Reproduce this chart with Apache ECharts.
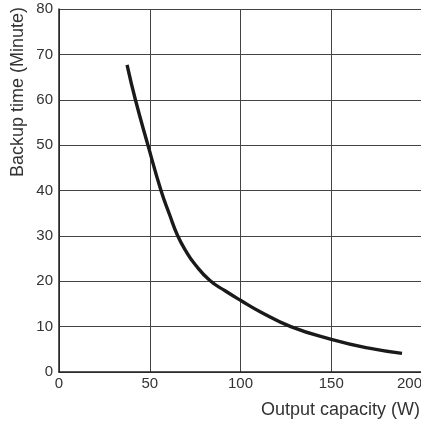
<!DOCTYPE html>
<html>
<head>
<meta charset="utf-8">
<script src="https://cdn.jsdelivr.net/npm/echarts@6/dist/echarts.min.js"></script>
<style>
  html, body { margin: 0; padding: 0; background: #fff; }
  #chart { width: 421px; height: 424px; }
</style>
</head>
<body>
<div id="chart"></div>
<script>
// 曲线数据 (W, 分钟)
const capacity = [37.5, 42.1, 49, 56.2, 61, 65.2, 70, 75, 83, 91.5, 100, 110.8, 127.7, 150, 170, 189];
const backupTime = [67.7, 60, 50, 40, 34.6, 30.2, 26.6, 23.7, 20.2, 17.9, 15.8, 13.3, 10, 7.2, 5.3, 4.1];
const xTicks = [0, 50, 100, 150, 200];
const yTicks = [0, 10, 20, 30, 40, 50, 60, 70, 80];

const font = 'Liberation Sans, Arial, sans-serif';

const option = {
  animation: false,
  grid: { left: 59, top: 9, right: -1, bottom: 52, outerBoundsMode: 'none', containLabel: false },
  xAxis: {
    type: 'value',
    min: xTicks[0],
    max: xTicks[xTicks.length - 1],
    interval: 50,
    axisLine: { show: true, lineStyle: { color: '#222', width: 1.5 } },
    axisTick: { show: false },
    axisLabel: { color: '#333', fontSize: 15, fontFamily: font, margin: 4, alignMaxLabel: 'right' },
    splitLine: { show: true, lineStyle: { color: '#444', width: 1 } }
  },
  yAxis: {
    type: 'value',
    min: yTicks[0],
    max: yTicks[yTicks.length - 1],
    interval: 10,
    axisLine: { show: true, lineStyle: { color: '#222', width: 1.5 } },
    axisTick: { show: false },
    axisLabel: { color: '#333', fontSize: 15, fontFamily: font, margin: 6 },
    splitLine: { show: true, lineStyle: { color: '#444', width: 1 } }
  },
  graphic: [
    {
      type: 'text',
      x: 18, y: 92,
      rotation: Math.PI / 2,
      style: {
        text: 'Backup time (Minute)',
        fontSize: 18, fontFamily: font, fill: '#333',
        align: 'center', verticalAlign: 'middle'
      }
    },
    {
      type: 'text',
      x: 420, y: 410,
      style: {
        text: 'Output capacity (W)',
        fontSize: 18, fontFamily: font, fill: '#333',
        align: 'right', verticalAlign: 'middle'
      }
    }
  ],
  series: [{
    type: 'line',
    smooth: 0.5,
    symbol: 'none',
    data: capacity.map((x, i) => [x, backupTime[i]]),
    lineStyle: { color: '#1a1a1a', width: 3.4 }
  }]
};

const chart = echarts.init(document.getElementById('chart'));
chart.setOption(option);
</script>
</body>
</html>
